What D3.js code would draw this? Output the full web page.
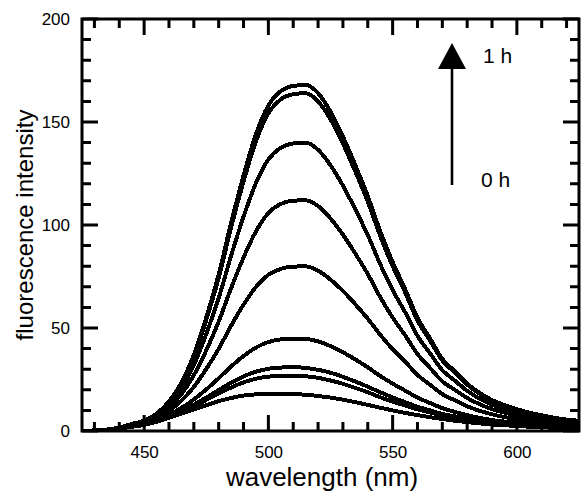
<!DOCTYPE html>
<html>
<head>
<meta charset="utf-8">
<script src="https://cdn.jsdelivr.net/npm/d3@7"></script>
<style>
    body { margin: 0; background: #fff; }
    svg { display: block; }
    text { font-family: 'Liberation Sans', Arial, Helvetica, sans-serif; fill: #000; }
</style>
</head>
<body>
<svg id="chart" width="581" height="492"></svg>
<script>
// wavelength grid (nm), one value every 5 nm
const wavelengths = d3.range(425, 626, 5);

// spectra, from 0 h (lowest) up to 1 h (highest)
const spec0 = [0, 0.3, 0.6, 1.2, 2.0, 3.0, 4.5, 6.5, 8.5, 10.5, 12.5, 14.5, 16, 17.2, 17.8, 18, 18, 17.9, 17.6, 17,
    16.2, 15.2, 14, 12.7, 11.3, 10, 8.8, 7.7, 6.7, 5.8, 5, 4.3, 3.7, 3.2, 2.8, 2.4, 2.1, 1.8, 1.6, 1.4, 1.2];
const spec1 = [0, 0.3, 0.6, 1.2, 2.1, 3.1, 4.7, 7.0, 9.4, 12.1, 15.1, 18.2, 21.1, 23.6, 25.4, 26.4, 26.8, 26.9, 26.6, 25.8,
    24.5, 22.9, 20.9, 18.8, 16.4, 14.3, 12.4, 10.5, 9.0, 7.6, 6.4, 5.4, 4.6, 3.9, 3.4, 2.9, 2.5, 2.1, 1.9, 1.6, 1.4];
const spec2 = [0, 0.3, 0.6, 1.2, 2.1, 3.2, 4.8, 7.2, 9.8, 12.8, 16.2, 19.9, 23.4, 26.5, 28.8, 30.2, 30.8, 31.0, 30.6, 29.7,
    28.3, 26.3, 24.0, 21.5, 18.8, 16.3, 14.0, 11.8, 10.0, 8.3, 7.1, 5.9, 5.0, 4.2, 3.7, 3.1, 2.7, 2.3, 2.0, 1.8, 1.5];
const spec3 = [0, 0.3, 0.6, 1.3, 2.3, 3.4, 5.2, 7.9, 11.2, 15.3, 20.2, 25.6, 31.3, 36.4, 40.5, 43.2, 44.5, 44.9, 44.7, 43.5,
    41.2, 38.2, 34.7, 30.9, 26.7, 23.0, 19.6, 16.2, 13.6, 11.1, 9.3, 7.7, 6.4, 5.3, 4.6, 3.9, 3.3, 2.8, 2.5, 2.1, 1.9];
const spec4 = [0, 0.3, 0.6, 1.4, 2.6, 3.8, 6.1, 9.7, 14.7, 21.4, 30.1, 39.9, 51.1, 61.3, 69.9, 75.8, 78.7, 79.8, 79.9, 77.8,
    73.5, 68.0, 61.5, 54.5, 46.7, 39.7, 33.7, 27.2, 22.5, 17.9, 14.9, 12.0, 9.8, 8.1, 6.8, 5.8, 4.9, 4.2, 3.6, 3.1, 2.8];
const spec5 = [0, 0.3, 0.7, 1.5, 2.9, 4.3, 7.0, 11.4, 17.9, 27.1, 39.1, 53.1, 69.3, 84.2, 96.9, 105.8, 110.2, 111.8, 112.0, 109.2,
    103.2, 95.3, 86.1, 76.2, 65.0, 55.1, 46.5, 37.4, 30.7, 24.1, 20.0, 16.0, 13.0, 10.6, 8.9, 7.5, 6.4, 5.4, 4.6, 4.0, 3.6];
const spec6 = [0, 0.3, 0.7, 1.6, 3.1, 4.6, 7.7, 12.8, 20.7, 32.0, 47.1, 64.5, 85.1, 104.0, 120.4, 131.8, 137.5, 139.6, 140.0, 136.5,
    129.0, 119.1, 107.5, 95.1, 81.0, 68.5, 57.7, 46.2, 37.8, 29.5, 24.5, 19.5, 15.7, 12.8, 10.8, 9.1, 7.6, 6.5, 5.5, 4.7, 4.3];
const spec7 = [0, 0.3, 0.7, 1.7, 3.4, 4.9, 8.3, 14.1, 23.1, 36.3, 53.9, 74.3, 98.7, 121.1, 140.6, 154.2, 161.0, 163.5, 164.0, 160.0,
    151.3, 139.5, 125.9, 111.3, 94.7, 80.1, 67.4, 53.7, 44.0, 34.2, 28.4, 22.5, 18.1, 14.7, 12.3, 10.4, 8.7, 7.4, 6.3, 5.4, 4.9];
const spec8 = [0, 0.3, 0.7, 1.7, 3.4, 5.0, 8.4, 14.3, 23.5, 37, 55, 76, 101, 124, 144, 158, 165, 167.5, 168, 164,
    155, 143, 129, 114, 97, 82, 69, 55, 45, 35, 29, 23, 18.5, 15, 12.6, 10.6, 8.9, 7.6, 6.4, 5.5, 5.0];

const allSpectra = [spec0, spec1, spec2, spec3, spec4, spec5, spec6, spec7, spec8];

const xMajor = [450, 500, 550, 600];
const xMinor = d3.range(430, 625, 10).filter(v => !xMajor.includes(v));
const yMajor = [0, 50, 100, 150, 200];
const yMinor = d3.range(10, 200, 10).filter(v => !yMajor.includes(v));

const svg = d3.select('#chart');
const plotLeft = 82, plotRight = 579, plotTop = 19, plotBottom = 431;
const majorLen = 16, minorLen = 9;

const x = d3.scaleLinear().domain([425, 625]).range([plotLeft, plotRight]);
const y = d3.scaleLinear().domain([0, 200]).range([plotBottom, plotTop]);

svg.append('clipPath')
    .attr('id', 'plotClip')
    .append('rect')
    .attr('x', plotLeft)
    .attr('y', plotTop)
    .attr('width', plotRight - plotLeft)
    .attr('height', plotBottom - plotTop);

const line = d3.line()
    .x((d, i) => x(wavelengths[i]))
    .y(d => y(d))
    .curve(d3.curveMonotoneX);

svg.append('g')
    .attr('clip-path', 'url(#plotClip)')
    .selectAll('path')
    .data(allSpectra)
    .join('path')
    .attr('d', d => line(d))
    .attr('fill', 'none')
    .attr('stroke', '#000')
    .attr('stroke-width', 4)
    .attr('shape-rendering', 'crispEdges');

svg.append('rect')
    .attr('x', plotLeft)
    .attr('y', plotTop)
    .attr('width', plotRight - plotLeft)
    .attr('height', plotBottom - plotTop)
    .attr('fill', 'none')
    .attr('stroke', '#000')
    .attr('stroke-width', 3);

// inward ticks on all four sides, one path
const xTicks = xMajor.map(v => [v, majorLen]).concat(xMinor.map(v => [v, minorLen]));
const yTicks = yMajor.map(v => [v, majorLen]).concat(yMinor.map(v => [v, minorLen]));

const tickPath = d3.path();
xTicks.forEach(([v, len]) => {
    tickPath.moveTo(x(v), plotBottom);
    tickPath.lineTo(x(v), plotBottom - len);
    tickPath.moveTo(x(v), plotTop);
    tickPath.lineTo(x(v), plotTop + len);
});
yTicks.forEach(([v, len]) => {
    tickPath.moveTo(plotLeft, y(v));
    tickPath.lineTo(plotLeft + len, y(v));
    tickPath.moveTo(plotRight, y(v));
    tickPath.lineTo(plotRight - len, y(v));
});

svg.append('path')
    .attr('d', tickPath.toString())
    .attr('fill', 'none')
    .attr('stroke', '#000')
    .attr('stroke-width', 3);

// tick labels through d3 axes
svg.append('g')
    .attr('transform', `translate(0,${plotBottom})`)
    .call(d3.axisBottom(x).tickValues(xMajor).tickSize(0).tickPadding(15).tickFormat(d3.format('d')))
    .call(g => g.select('.domain').remove())
    .call(g => g.selectAll('text').style('font-size', '17px'));

svg.append('g')
    .attr('transform', `translate(${plotLeft},0)`)
    .call(d3.axisLeft(y).tickValues(yMajor).tickSize(0).tickPadding(12).tickFormat(d3.format('d')))
    .call(g => g.select('.domain').remove())
    .call(g => g.selectAll('text').style('font-size', '17px'));

svg.append('text')
    .attr('x', 322)
    .attr('y', 486)
    .attr('text-anchor', 'middle')
    .style('font-size', '26px')
    .text('wavelength (nm)');

svg.append('text')
    .attr('transform', `translate(33,${(plotTop + plotBottom) / 2}) rotate(-90)`)
    .attr('text-anchor', 'middle')
    .style('font-size', '24px')
    .text('fluorescence intensity');

// time arrow
svg.append('line')
    .attr('x1', 452).attr('x2', 452)
    .attr('y1', 185).attr('y2', 66)
    .attr('stroke', '#000')
    .attr('stroke-width', 2.6);

svg.append('path')
    .attr('d', 'M452,43 L466,69 L438,69 Z')
    .attr('fill', '#000');

svg.append('text')
    .attr('x', 483).attr('y', 63)
    .style('font-size', '21px')
    .text('1 h');

svg.append('text')
    .attr('x', 481).attr('y', 187)
    .style('font-size', '21px')
    .text('0 h');
</script>
</body>
</html>
